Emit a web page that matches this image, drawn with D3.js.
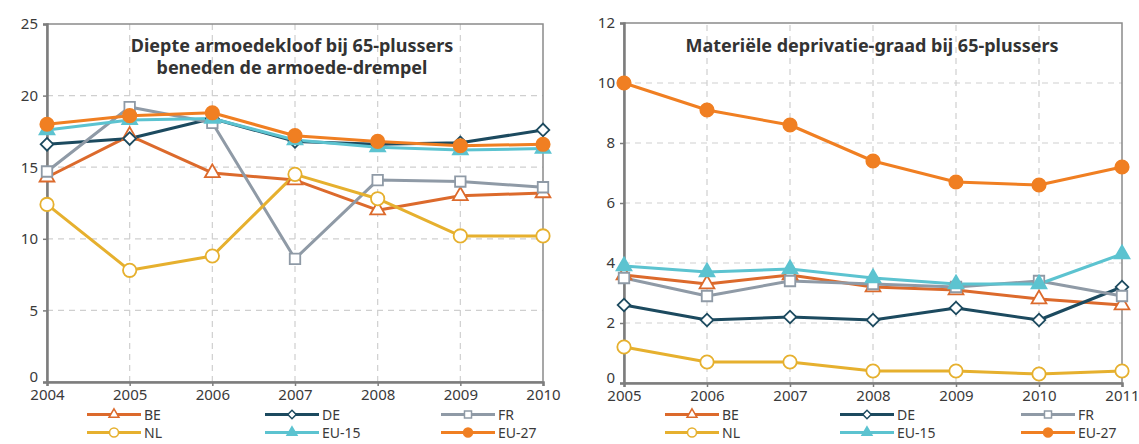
<!DOCTYPE html>
<html><head><meta charset="utf-8">
<script src="https://cdn.jsdelivr.net/npm/d3@7"></script>
<style>
html,body{margin:0;padding:0;background:#fff;}
svg text{font-family:"Noto Sans",sans-serif;}
</style></head>
<body><svg id="c" width="1139" height="444"></svg>
<script>
// ---- data ----
const seriesNames = ["BE","DE","FR","NL","EU-15","EU-27"];
const yearsLeft = [2004,2005,2006,2007,2008,2009,2010];
const leftBE   = [14.3,17.2,14.6,14.1,12.0,13.0,13.2];
const leftDE   = [16.6,17.0,18.4,16.8,16.6,16.7,17.6];
const leftFR   = [14.7,19.2,18.1,8.6,14.1,14.0,13.6];
const leftNL   = [12.4,7.8,8.8,14.5,12.8,10.2,10.2];
const leftEU15 = [17.6,18.3,18.4,16.9,16.4,16.2,16.3];
const leftEU27 = [18.0,18.6,18.8,17.2,16.8,16.5,16.6];
const leftTicksY = [0,5,10,15,20,25];
const leftTitle = ["Diepte armoedekloof bij 65-plussers","beneden de armoede-drempel"];

const yearsRight = [2005,2006,2007,2008,2009,2010,2011];
const rightBE   = [3.6,3.3,3.6,3.2,3.1,2.8,2.6];
const rightDE   = [2.6,2.1,2.2,2.1,2.5,2.1,3.2];
const rightFR   = [3.5,2.9,3.4,3.3,3.2,3.4,2.9];
const rightNL   = [1.2,0.7,0.7,0.4,0.4,0.3,0.4];
const rightEU15 = [3.9,3.7,3.8,3.5,3.3,3.3,4.3];
const rightEU27 = [10.0,9.1,8.6,7.4,6.7,6.6,7.2];
const rightTicksY = [0,2,4,6,8,10,12];
const rightTitle = ["Materiële deprivatie-graad bij 65-plussers"];

// ---- styles ----
const styles = {
  "BE":   {color:"#dc6a2c", marker:"triangle", fill:"#fff"},
  "DE":   {color:"#1c4a5f", marker:"diamond",  fill:"#fff"},
  "FR":   {color:"#8f9aa6", marker:"square",   fill:"#fff"},
  "NL":   {color:"#e6b02e", marker:"circle",   fill:"#fff"},
  "EU-15":{color:"#5cc3d0", marker:"triangle", fill:"#5cc3d0"},
  "EU-27":{color:"#f07f22", marker:"circle",   fill:"#f07f22"}
};
const symMap = {triangle:d3.symbolTriangle, diamond:d3.symbolSquare, square:d3.symbolSquare, circle:d3.symbolCircle};
const symSize = {triangle:95, diamond:80, square:110, circle:140};
const rot = m => m==="diamond" ? " rotate(45)" : "";

const svg = d3.select("#c");

function drawChart(cfg){
  const g = svg.append("g");
  const x = d3.scaleLinear().domain(d3.extent(cfg.years)).range([cfg.x0, cfg.x1]);
  const y = d3.scaleLinear().domain([0, d3.max(cfg.ticks)]).range([cfg.y0, cfg.y1]);
  // grid
  g.append("g").selectAll("line").data(cfg.ticks.slice(1,-1)).join("line")
    .attr("x1",cfg.x0).attr("x2",cfg.x1).attr("y1",d=>y(d)).attr("y2",d=>y(d))
    .attr("stroke","#cfcfcf").attr("stroke-width",1.2).attr("stroke-dasharray","6,5");
  g.append("g").selectAll("line").data(cfg.years.slice(1,-1)).join("line")
    .attr("y1",cfg.y0).attr("y2",cfg.y1).attr("x1",d=>x(d)).attr("x2",d=>x(d))
    .attr("stroke","#cfcfcf").attr("stroke-width",1.2).attr("stroke-dasharray","6,5");
  // frame
  g.append("rect").attr("x",cfg.x0).attr("y",cfg.y1).attr("width",cfg.x1-cfg.x0).attr("height",cfg.y0-cfg.y1)
    .attr("fill","none").attr("stroke","#8a8a8a").attr("stroke-width",1.5);
  // axes
  const ya = d3.axisLeft(y).tickValues(cfg.ticks).tickSize(4).tickPadding(5).tickFormat(d3.format("d"));
  const yg = g.append("g").attr("transform",`translate(${cfg.x0},0)`).call(ya);
  const xa = d3.axisBottom(x).tickValues(cfg.years).tickSize(4).tickPadding(3).tickFormat(d3.format("d"));
  const xg = g.append("g").attr("transform",`translate(0,${cfg.y0})`).call(xa);
  [yg,xg].forEach(a=>{
    a.select(".domain").attr("stroke","#7d7d7d").attr("stroke-width",2.5);
    a.selectAll(".tick line").attr("stroke","#7d7d7d").attr("stroke-width",1.5);
    a.selectAll("text").attr("fill","#3a3a3a").attr("font-size",15);
  });
  yg.selectAll(".tick").filter(d=>d===0).select("text").attr("dy","-0.05em");
  // title
  const t = g.append("text").attr("x",cfg.titleX).attr("y",cfg.titleY).attr("text-anchor","middle")
    .attr("font-size",18).attr("font-weight","bold").attr("fill","#333");
  cfg.title.forEach((s,i)=>t.append("tspan").attr("x",cfg.titleX).attr("dy",i?22:0).text(s));
  // series
  const line = d3.line().x((d,i)=>x(cfg.years[i])).y(d=>y(d));
  cfg.data.forEach((vals,k)=>{
    const st = styles[seriesNames[k]];
    g.append("path").datum(vals).attr("d",line).attr("fill","none")
      .attr("stroke",st.color).attr("stroke-width",3).attr("stroke-linejoin","round");
  });
  cfg.data.forEach((vals,k)=>{
    const st = styles[seriesNames[k]];
    g.append("g").selectAll("path").data(vals).join("path")
      .attr("transform",(d,i)=>`translate(${x(cfg.years[i])},${y(d)})${rot(st.marker)}`)
      .attr("d",d3.symbol().type(symMap[st.marker]).size(symSize[st.marker]))
      .attr("fill",st.fill).attr("stroke",st.color).attr("stroke-width",1.8);
  });
  // legend
  const lg = g.append("g");
  seriesNames.forEach((n,k)=>{
    const st = styles[n];
    const col = k%3, row = Math.floor(k/3);
    const lx = cfg.legX[col], ly = cfg.legY[row];
    lg.append("line").attr("x1",lx).attr("x2",lx+54).attr("y1",ly).attr("y2",ly)
      .attr("stroke",st.color).attr("stroke-width",3);
    lg.append("path").attr("transform",`translate(${lx+27},${ly})${rot(st.marker)}`)
      .attr("d",d3.symbol().type(symMap[st.marker]).size(symSize[st.marker]*0.45))
      .attr("fill",st.fill).attr("stroke",st.color).attr("stroke-width",1.5);
    lg.append("text").attr("x",lx+57).attr("y",ly).attr("dy","0.36em")
      .attr("font-family","Lato, sans-serif")
      .attr("font-size",14).attr("fill","#3a3a3a").text(n);
  });
}

drawChart({years:yearsLeft, ticks:leftTicksY, x0:47, x1:543, y0:382, y1:24,
  data:[leftBE,leftDE,leftFR,leftNL,leftEU15,leftEU27], title:leftTitle, titleX:292, titleY:52,
  legX:[87,265,441], legY:[414.5,432.5]});
drawChart({years:yearsRight, ticks:rightTicksY, x0:624, x1:1122, y0:383, y1:23,
  data:[rightBE,rightDE,rightFR,rightNL,rightEU15,rightEU27], title:rightTitle, titleX:872, titleY:52,
  legX:[665,840,1021], legY:[414.5,432.5]});
</script></body></html>
